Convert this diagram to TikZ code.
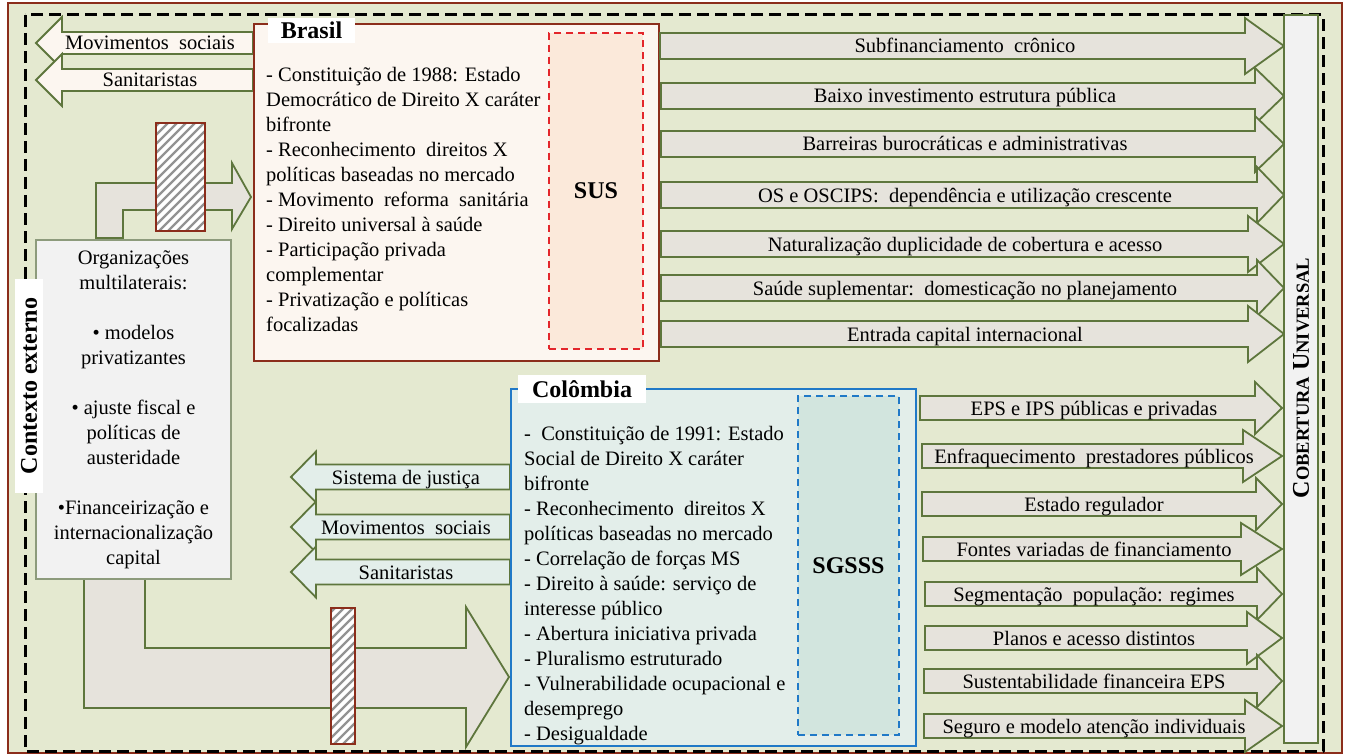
\documentclass[tikz,border=0pt]{standalone}
\usepackage{fontspec}
\setmainfont{Liberation Serif}

\definecolor{fundo}{HTML}{E4E9D0}
\definecolor{oliva}{HTML}{5E763D}
\definecolor{cinzaseta}{HTML}{E6E3DC}
\definecolor{cinzaclaro}{HTML}{F2F2F2}
\definecolor{bordaorg}{HTML}{8D9B7C}
\definecolor{vinho}{HTML}{8B2D1B}
\definecolor{rosado}{HTML}{FCF6F0}
\definecolor{pessego}{HTML}{FBE9DA}
\definecolor{vermelho}{HTML}{E3262B}
\definecolor{azul}{HTML}{2079C7}
\definecolor{verdeagua}{HTML}{E3EEEA}
\definecolor{verdeaguaesc}{HTML}{D2E5DE}

\newcommand{\blocoseta}[5]{%
  \draw[seta] (#3,#2-\meia) -- (#4,#2-\meia) -- (#4,#2-\cab) -- (\xponta,#2)
    -- (#4,#2+\cab) -- (#4,#2+\meia) -- (#3,#2+\meia) -- cycle;
  \node[rotulo] (#1) at (\xrot,#2+7) {#5};}

\newcommand{\hachura}[4]{%
  \fill[white] (#1,#2) rectangle (#3,#4);
  \begin{scope}
    \clip (#1,#2) rectangle (#3,#4);
    \foreach \k in {0,...,30}
      \draw[listra] ({#1-150+\k*9},#4) -- ++(160,-160);
  \end{scope}
  \draw[vinho,line width=1.8pt] (#1,#2) rectangle (#3,#4);}

\begin{document}
\begin{tikzpicture}[x=1pt,y=-1pt,
    font=\fontsize{20.5}{25}\selectfont,
    seta/.style={draw=oliva,line width=1.8pt,fill=cinzaseta},
    rotulo/.style={inner sep=0pt,anchor=base},
    caixa/.style={line width=1.8pt,inner sep=0pt},
    titulo/.style={fill=white,inner sep=0pt,
                   font=\fontsize{24}{28}\selectfont\bfseries},
    texto/.style={anchor=north west,inner sep=0pt,align=left},
    listra/.style={draw=gray!85,line width=2.4pt}]

  \useasboundingbox (0,0) rectangle (1351,754);
  \fill[fundo] (8,3) rectangle (1342,753);
  \draw[vinho,line width=2pt] (8,3) rectangle (1342,753);
  \draw[line width=3pt,dash pattern=on 12pt off 6pt,line join=round]
    (25,15) rectangle (1323,751);

  \draw[seta] (96,238) -- (96,183) -- (232,183) -- (232,163) -- (251,197)
    -- (232,229) -- (232,210) -- (123,210) -- (123,238) -- cycle;
  \draw[seta] (84,579) -- (84,708) -- (466,708) -- (466,747) -- (509,677)
    -- (466,607) -- (466,648) -- (145,648) -- (145,579) -- cycle;
  \hachura{156}{123}{205}{231}
  \hachura{331}{608}{355}{744}

  \begin{scope}[seta/.append style={fill=rosado}]
    \def\meia{11}\def\cab{26}\def\xponta{36}\def\xrot{150}
    \blocoseta{bmov}{43}{253}{62}{Movimentos\ \ sociais}
    \blocoseta{bsan}{80}{253}{62}{Sanitaristas}
  \end{scope}

  \node[caixa,draw=vinho,fill=rosado,anchor=north west,
        minimum width=405pt,minimum height=337pt] (brasil) at (253,23) {};
  \node[caixa,draw=vermelho,fill=pessego,dash pattern=on 7pt off 5pt,
        minimum width=94pt,minimum height=316pt,
        font=\fontsize{24}{28}\selectfont\bfseries] (sus) at (596,191) {SUS};
  \node[titulo,minimum width=87pt,minimum height=25pt] (tbrasil)
    at (311.5,30.5) {Brasil};
  \node[texto] (txtbrasil) at (266,67) {- Constituição de 1988: Estado\\
    Democrático de Direito X caráter\\ bifronte\\
    - Reconhecimento\ \ direitos X\\ políticas baseadas no mercado\\
    - Movimento\ \ reforma\ \ sanitária\\ - Direito universal à saúde\\
    - Participação privada\\ complementar\\
    - Privatização e políticas\\ focalizadas};

  \begin{scope}
    \def\meia{13}\def\cab{28}\def\xponta{1284}\def\xrot{965}
    \blocoseta{bsub}{46}{660}{1245}{Subfinanciamento\ \ crônico}
    \blocoseta{binv}{96}{661}{1255}{Baixo investimento estrutura pública}
    \blocoseta{bbar}{144}{661}{1255}{Barreiras burocráticas e administrativas}
    \blocoseta{bos}{195}{661}{1257}{OS e OSCIPS:\ \ dependência e utilização crescente}
    \blocoseta{bnat}{244}{661}{1248}{Naturalização duplicidade de cobertura e acesso}
    \blocoseta{bsau}{288}{661}{1257}{Saúde suplementar:\ \ domesticação no planejamento}
    \blocoseta{bent}{334}{661}{1248}{Entrada capital internacional}
  \end{scope}

  \node[caixa,draw=bordaorg,fill=cinzaclaro,line width=1.4pt,align=center,
        minimum width=195pt,minimum height=339pt] (organizacoes)
    at (133.5,409.5) {Organizações\\ multilaterais:\\[25pt]
    • modelos\\ privatizantes\\[25pt]
    • ajuste fiscal e\\ políticas de\\ austeridade\\[25pt]
    •Financeirização e\\ internacionalização\\ capital};
  \node[titulo,rotate=90,minimum width=214pt,minimum height=28pt] (contexto)
    at (29,386) {Contexto externo};

  \begin{scope}[seta/.append style={fill=verdeagua}]
    \def\meia{12.5}\def\cab{25.5}\def\xponta{291}\def\xrot{406}
    \blocoseta{cjus}{477}{510}{316}{Sistema de justiça}
    \blocoseta{cmov}{527}{510}{316}{Movimentos\ \ sociais}
    \blocoseta{csan}{572}{510}{316}{Sanitaristas}
  \end{scope}

  \node[caixa,draw=azul,fill=verdeagua,anchor=north west,
        minimum width=405pt,minimum height=357pt] (colombia) at (510,388) {};
  \node[caixa,draw=azul,fill=verdeaguaesc,dash pattern=on 7pt off 5pt,
        minimum width=101pt,minimum height=339pt,
        font=\fontsize{24}{28}\selectfont\bfseries] (sgsss) at (848.5,565.5) {SGSSS};
  \node[titulo,minimum width=128pt,minimum height=28pt] (tcolombia)
    at (582,389) {Colômbia};
  \node[texto] (txtcolombia) at (524,426) {-\ \ Constituição de 1991: Estado\\
    Social de Direito X caráter\\ bifronte\\
    - Reconhecimento\ \ direitos X\\ políticas baseadas no mercado\\
    - Correlação de forças MS\\ - Direito à saúde: serviço de\\
    interesse público\\ - Abertura iniciativa privada\\
    - Pluralismo estruturado\\ - Vulnerabilidade ocupacional e\\
    desemprego\\ - Desigualdade};

  \begin{scope}
    \def\meia{12}\def\cab{26}\def\xponta{1282}\def\xrot{1094}
    \blocoseta{ceps}{408}{920}{1255}{EPS e IPS públicas e privadas}
    \blocoseta{cenf}{456}{922}{1243}{Enfraquecimento\ \ prestadores públicos}
    \blocoseta{cest}{504}{922}{1256}{Estado regulador}
    \blocoseta{cfon}{549}{923}{1241}{Fontes variadas de financiamento}
    \blocoseta{cpop}{594}{925}{1257}{Segmentação\ \ população: regimes}
    \blocoseta{cpla}{638}{925}{1247}{Planos e acesso distintos}
    \blocoseta{csus}{681}{924}{1257}{Sustentabilidade financeira EPS}
    \blocoseta{cseg}{726}{924}{1245}{Seguro e modelo atenção individuais}
  \end{scope}

  \node[caixa,draw=oliva,fill=cinzaclaro,minimum width=34pt,
        minimum height=728pt] (cobertura) at (1301,379) {};
  \node[rotate=90,inner sep=0pt,font=\fontsize{24}{24}\selectfont\bfseries]
    (cobtxt) at (1301,378)
    {C{\fontsize{18.5}{24}\selectfont OBERTURA} U{\fontsize{18.5}{24}\selectfont NIVERSAL}};

\end{tikzpicture}
\end{document}
